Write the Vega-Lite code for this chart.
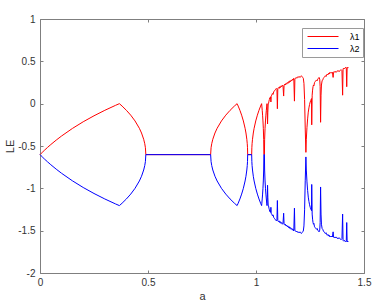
{
  "$schema": "https://vega.github.io/schema/vega-lite/v6.json",
  "width": 324,
  "height": 254,
  "autosize": {"type": "none"},
  "padding": {"left": 40, "top": 19, "right": 9, "bottom": 35},
  "background": "white",
  "config": {
    "view": {"stroke": null},
    "font": "Liberation Sans",
    "axis": {
      "grid": false,
      "domainColor": "#7f7f7f",
      "domainWidth": 1,
      "tickColor": "#7f7f7f",
      "tickSize": -3,
      "labelFont": "Liberation Sans",
      "labelFontSize": 10,
      "labelColor": "#333333",
      "titleFont": "Liberation Sans",
      "titleFontSize": 11,
      "titleFontWeight": "normal",
      "titleColor": "#333333"
    }
  },
  "datasets": {
    "le": [
      {"a": 0, "λ1": -0.602, "λ2": -0.602},
      {"a": 0.005, "λ1": -0.589, "λ2": -0.615},
      {"a": 0.01, "λ1": -0.5765, "λ2": -0.6275},
      {"a": 0.02, "λ1": -0.5518, "λ2": -0.6522},
      {"a": 0.035, "λ1": -0.5166, "λ2": -0.6874},
      {"a": 0.05, "λ1": -0.483, "λ2": -0.721},
      {"a": 0.075, "λ1": -0.4305, "λ2": -0.7735},
      {"a": 0.1, "λ1": -0.3816, "λ2": -0.8224},
      {"a": 0.15, "λ1": -0.2929, "λ2": -0.9111},
      {"a": 0.2, "λ1": -0.2139, "λ2": -0.9901},
      {"a": 0.25, "λ1": -0.1431, "λ2": -1.0609},
      {"a": 0.3, "λ1": -0.0785, "λ2": -1.1255},
      {"a": 0.35, "λ1": -0.0195, "λ2": -1.1845},
      {"a": 0.3675, "λ1": 0, "λ2": -1.204},
      {"a": 0.37, "λ1": -0.0055, "λ2": -1.1985},
      {"a": 0.38, "λ1": -0.0284, "λ2": -1.1756},
      {"a": 0.4, "λ1": -0.0785, "λ2": -1.1255},
      {"a": 0.42, "λ1": -0.136, "λ2": -1.068},
      {"a": 0.44, "λ1": -0.2043, "λ2": -0.9997},
      {"a": 0.46, "λ1": -0.2908, "λ2": -0.9132},
      {"a": 0.47, "λ1": -0.3466, "λ2": -0.8574},
      {"a": 0.48, "λ1": -0.4204, "λ2": -0.7836},
      {"a": 0.485, "λ1": -0.4732, "λ2": -0.7308},
      {"a": 0.488, "λ1": -0.5204, "λ2": -0.6836},
      {"a": 0.49, "λ1": -0.602, "λ2": -0.602},
      {"a": 0.79, "λ1": -0.602, "λ2": -0.602},
      {"a": 0.792, "λ1": -0.5204, "λ2": -0.6836},
      {"a": 0.795, "λ1": -0.4732, "λ2": -0.7308},
      {"a": 0.8, "λ1": -0.4204, "λ2": -0.7836},
      {"a": 0.81, "λ1": -0.3466, "λ2": -0.8574},
      {"a": 0.82, "λ1": -0.2908, "λ2": -0.9132},
      {"a": 0.84, "λ1": -0.2043, "λ2": -0.9997},
      {"a": 0.86, "λ1": -0.136, "λ2": -1.068},
      {"a": 0.88, "λ1": -0.0785, "λ2": -1.1255},
      {"a": 0.9, "λ1": -0.0284, "λ2": -1.1756},
      {"a": 0.9125, "λ1": 0, "λ2": -1.204},
      {"a": 0.9135, "λ1": -0.0055, "λ2": -1.1985},
      {"a": 0.9175, "λ1": -0.0284, "λ2": -1.1756},
      {"a": 0.9255, "λ1": -0.0785, "λ2": -1.1255},
      {"a": 0.9335, "λ1": -0.136, "λ2": -1.068},
      {"a": 0.9415, "λ1": -0.2043, "λ2": -0.9997},
      {"a": 0.9495, "λ1": -0.2908, "λ2": -0.9132},
      {"a": 0.9535, "λ1": -0.3466, "λ2": -0.8574},
      {"a": 0.9575, "λ1": -0.4204, "λ2": -0.7836},
      {"a": 0.9595, "λ1": -0.4732, "λ2": -0.7308},
      {"a": 0.9607, "λ1": -0.5204, "λ2": -0.6836},
      {"a": 0.9615, "λ1": -0.602, "λ2": -0.602},
      {"a": 0.98, "λ1": -0.602, "λ2": -0.602},
      {"a": 0.9808, "λ1": -0.5204, "λ2": -0.6836},
      {"a": 0.9819, "λ1": -0.4732, "λ2": -0.7308},
      {"a": 0.9838, "λ1": -0.4204, "λ2": -0.7836},
      {"a": 0.9875, "λ1": -0.3466, "λ2": -0.8574},
      {"a": 0.9913, "λ1": -0.2908, "λ2": -0.9132},
      {"a": 0.9988, "λ1": -0.2043, "λ2": -0.9997},
      {"a": 1.0063, "λ1": -0.136, "λ2": -1.068},
      {"a": 1.0138, "λ1": -0.0785, "λ2": -1.1255},
      {"a": 1.0213, "λ1": -0.0284, "λ2": -1.1756},
      {"a": 1.026, "λ1": 0, "λ2": -1.204},
      {"a": 1.0271, "λ1": -0.0284, "λ2": -1.1756},
      {"a": 1.0288, "λ1": -0.0785, "λ2": -1.1255},
      {"a": 1.0305, "λ1": -0.136, "λ2": -1.068},
      {"a": 1.0322, "λ1": -0.2043, "λ2": -0.9997},
      {"a": 1.0339, "λ1": -0.2908, "λ2": -0.9132},
      {"a": 1.0356, "λ1": -0.4204, "λ2": -0.7836},
      {"a": 1.0365, "λ1": -0.602, "λ2": -0.602},
      {"a": 1.039, "λ1": -0.602, "λ2": -0.602},
      {"a": 1.04, "λ1": -0.4204, "λ2": -0.7836},
      {"a": 1.0419, "λ1": -0.2908, "λ2": -0.9132},
      {"a": 1.0439, "λ1": -0.2043, "λ2": -0.9997},
      {"a": 1.0458, "λ1": -0.136, "λ2": -1.068},
      {"a": 1.0478, "λ1": -0.0785, "λ2": -1.1255},
      {"a": 1.0498, "λ1": -0.0284, "λ2": -1.1756},
      {"a": 1.051, "λ1": 0, "λ2": -1.204},
      {"a": 1.0522, "λ1": -0.1, "λ2": -1.104},
      {"a": 1.0535, "λ1": -0.24, "λ2": -0.964},
      {"a": 1.0548, "λ1": -0.1, "λ2": -1.104},
      {"a": 1.0565, "λ1": 0, "λ2": -1.204},
      {"a": 1.058, "λ1": 0, "λ2": -1.204},
      {"a": 1.06, "λ1": 0.03, "λ2": -1.234},
      {"a": 1.062, "λ1": 0.05, "λ2": -1.254},
      {"a": 1.064, "λ1": 0.07, "λ2": -1.274},
      {"a": 1.066, "λ1": 0.06, "λ2": -1.264},
      {"a": 1.068, "λ1": 0.08, "λ2": -1.284},
      {"a": 1.069, "λ1": 0.02, "λ2": -1.224},
      {"a": 1.07, "λ1": 0.09, "λ2": -1.294},
      {"a": 1.073, "λ1": 0.1, "λ2": -1.304},
      {"a": 1.076, "λ1": 0.12, "λ2": -1.324},
      {"a": 1.079, "λ1": 0.11, "λ2": -1.314},
      {"a": 1.082, "λ1": 0.14, "λ2": -1.344},
      {"a": 1.085, "λ1": 0.15, "λ2": -1.354},
      {"a": 1.088, "λ1": 0.16, "λ2": -1.364},
      {"a": 1.091, "λ1": 0.17, "λ2": -1.374},
      {"a": 1.094, "λ1": 0.18, "λ2": -1.384},
      {"a": 1.097, "λ1": 0.17, "λ2": -1.374},
      {"a": 1.099, "λ1": -0.06, "λ2": -1.144},
      {"a": 1.101, "λ1": 0.18, "λ2": -1.384},
      {"a": 1.104, "λ1": 0.19, "λ2": -1.394},
      {"a": 1.107, "λ1": 0.18, "λ2": -1.384},
      {"a": 1.11, "λ1": 0.2, "λ2": -1.404},
      {"a": 1.113, "λ1": 0.19, "λ2": -1.394},
      {"a": 1.116, "λ1": 0.21, "λ2": -1.414},
      {"a": 1.119, "λ1": 0.2, "λ2": -1.404},
      {"a": 1.122, "λ1": 0.22, "λ2": -1.424},
      {"a": 1.125, "λ1": 0.21, "λ2": -1.414},
      {"a": 1.128, "λ1": 0.09, "λ2": -1.294},
      {"a": 1.13, "λ1": 0.22, "λ2": -1.424},
      {"a": 1.133, "λ1": 0.23, "λ2": -1.434},
      {"a": 1.136, "λ1": 0.22, "λ2": -1.424},
      {"a": 1.139, "λ1": 0.24, "λ2": -1.444},
      {"a": 1.142, "λ1": 0.23, "λ2": -1.434},
      {"a": 1.145, "λ1": 0.25, "λ2": -1.454},
      {"a": 1.148, "λ1": 0.24, "λ2": -1.444},
      {"a": 1.151, "λ1": 0.26, "λ2": -1.464},
      {"a": 1.154, "λ1": 0.25, "λ2": -1.454},
      {"a": 1.157, "λ1": 0.27, "λ2": -1.474},
      {"a": 1.16, "λ1": 0.26, "λ2": -1.464},
      {"a": 1.163, "λ1": 0.28, "λ2": -1.484},
      {"a": 1.166, "λ1": 0.27, "λ2": -1.474},
      {"a": 1.169, "λ1": 0.29, "λ2": -1.494},
      {"a": 1.172, "λ1": 0.28, "λ2": -1.484},
      {"a": 1.175, "λ1": 0.3, "λ2": -1.504},
      {"a": 1.178, "λ1": 0.03, "λ2": -1.234},
      {"a": 1.18, "λ1": 0.29, "λ2": -1.494},
      {"a": 1.183, "λ1": 0.3, "λ2": -1.504},
      {"a": 1.186, "λ1": 0.31, "λ2": -1.514},
      {"a": 1.189, "λ1": 0.3, "λ2": -1.504},
      {"a": 1.192, "λ1": 0.31, "λ2": -1.514},
      {"a": 1.195, "λ1": 0.32, "λ2": -1.524},
      {"a": 1.198, "λ1": 0.31, "λ2": -1.514},
      {"a": 1.201, "λ1": 0.32, "λ2": -1.524},
      {"a": 1.204, "λ1": 0.31, "λ2": -1.514},
      {"a": 1.207, "λ1": 0.32, "λ2": -1.524},
      {"a": 1.21, "λ1": 0.33, "λ2": -1.534},
      {"a": 1.213, "λ1": 0.32, "λ2": -1.524},
      {"a": 1.216, "λ1": 0.31, "λ2": -1.514},
      {"a": 1.219, "λ1": 0.3, "λ2": -1.504},
      {"a": 1.222, "λ1": 0.24, "λ2": -1.444},
      {"a": 1.225, "λ1": 0.05, "λ2": -1.254},
      {"a": 1.228, "λ1": -0.3, "λ2": -0.904},
      {"a": 1.231, "λ1": -0.575, "λ2": -0.629},
      {"a": 1.233, "λ1": -0.42, "λ2": -0.784},
      {"a": 1.236, "λ1": -0.28, "λ2": -0.924},
      {"a": 1.239, "λ1": -0.18, "λ2": -1.024},
      {"a": 1.242, "λ1": -0.1, "λ2": -1.104},
      {"a": 1.245, "λ1": -0.05, "λ2": -1.154},
      {"a": 1.248, "λ1": -0.01, "λ2": -1.194},
      {"a": 1.251, "λ1": 0.02, "λ2": -1.224},
      {"a": 1.254, "λ1": 0.04, "λ2": -1.244},
      {"a": 1.257, "λ1": 0.06, "λ2": -1.264},
      {"a": 1.258, "λ1": -0.25, "λ2": -0.954},
      {"a": 1.26, "λ1": 0.1, "λ2": -1.304},
      {"a": 1.262, "λ1": 0.16, "λ2": -1.364},
      {"a": 1.264, "λ1": 0.2, "λ2": -1.404},
      {"a": 1.266, "λ1": 0.22, "λ2": -1.424},
      {"a": 1.268, "λ1": 0.21, "λ2": -1.414},
      {"a": 1.271, "λ1": 0.25, "λ2": -1.454},
      {"a": 1.274, "λ1": 0.26, "λ2": -1.464},
      {"a": 1.277, "λ1": 0.27, "λ2": -1.474},
      {"a": 1.28, "λ1": 0.28, "λ2": -1.484},
      {"a": 1.283, "λ1": 0.27, "λ2": -1.474},
      {"a": 1.286, "λ1": 0.29, "λ2": -1.494},
      {"a": 1.289, "λ1": 0.3, "λ2": -1.504},
      {"a": 1.292, "λ1": 0.31, "λ2": -1.514},
      {"a": 1.295, "λ1": 0.29, "λ2": -1.494},
      {"a": 1.297, "λ1": 0.2, "λ2": -1.404},
      {"a": 1.299, "λ1": -0.22, "λ2": -0.984},
      {"a": 1.301, "λ1": 0.1, "λ2": -1.304},
      {"a": 1.303, "λ1": 0.22, "λ2": -1.424},
      {"a": 1.306, "λ1": 0.27, "λ2": -1.474},
      {"a": 1.309, "λ1": 0.28, "λ2": -1.484},
      {"a": 1.312, "λ1": 0.3, "λ2": -1.504},
      {"a": 1.315, "λ1": 0.31, "λ2": -1.514},
      {"a": 1.318, "λ1": 0.32, "λ2": -1.524},
      {"a": 1.321, "λ1": 0.33, "λ2": -1.534},
      {"a": 1.324, "λ1": 0.32, "λ2": -1.524},
      {"a": 1.327, "λ1": 0.34, "λ2": -1.544},
      {"a": 1.33, "λ1": 0.35, "λ2": -1.554},
      {"a": 1.333, "λ1": 0.34, "λ2": -1.544},
      {"a": 1.336, "λ1": 0.36, "λ2": -1.564},
      {"a": 1.339, "λ1": 0.35, "λ2": -1.554},
      {"a": 1.342, "λ1": 0.37, "λ2": -1.574},
      {"a": 1.345, "λ1": 0.36, "λ2": -1.564},
      {"a": 1.348, "λ1": 0.37, "λ2": -1.574},
      {"a": 1.351, "λ1": 0.36, "λ2": -1.564},
      {"a": 1.354, "λ1": 0.37, "λ2": -1.574},
      {"a": 1.357, "λ1": 0.31, "λ2": -1.514},
      {"a": 1.359, "λ1": 0.37, "λ2": -1.574},
      {"a": 1.362, "λ1": 0.38, "λ2": -1.584},
      {"a": 1.365, "λ1": 0.37, "λ2": -1.574},
      {"a": 1.368, "λ1": 0.38, "λ2": -1.584},
      {"a": 1.371, "λ1": 0.37, "λ2": -1.574},
      {"a": 1.374, "λ1": 0.38, "λ2": -1.584},
      {"a": 1.377, "λ1": 0.39, "λ2": -1.594},
      {"a": 1.38, "λ1": 0.38, "λ2": -1.584},
      {"a": 1.383, "λ1": 0.39, "λ2": -1.594},
      {"a": 1.386, "λ1": 0.38, "λ2": -1.584},
      {"a": 1.389, "λ1": 0.39, "λ2": -1.594},
      {"a": 1.392, "λ1": 0.4, "λ2": -1.604},
      {"a": 1.395, "λ1": 0.4, "λ2": -1.604},
      {"a": 1.398, "λ1": 0.39, "λ2": -1.594},
      {"a": 1.401, "λ1": 0.1, "λ2": -1.304},
      {"a": 1.403, "λ1": 0.41, "λ2": -1.614},
      {"a": 1.406, "λ1": 0.42, "λ2": -1.624},
      {"a": 1.409, "λ1": 0.41, "λ2": -1.614},
      {"a": 1.412, "λ1": 0.42, "λ2": -1.624},
      {"a": 1.415, "λ1": 0.43, "λ2": -1.634},
      {"a": 1.418, "λ1": 0.42, "λ2": -1.624},
      {"a": 1.42, "λ1": 0.2, "λ2": -1.404},
      {"a": 1.422, "λ1": 0.43, "λ2": -1.634},
      {"a": 1.425, "λ1": 0.42, "λ2": -1.624},
      {"a": 1.427, "λ1": 0.43, "λ2": -1.634}
    ],
    "frame": [{"a": 0, "v": 0}]
  },
  "layer": [
    {
      "data": {"name": "le"},
      "transform": [{"fold": ["λ1", "λ2"], "as": ["s", "v"]}],
      "mark": {"type": "line", "strokeWidth": 1},
      "encoding": {
        "x": {
          "field": "a", "type": "quantitative",
          "scale": {"domain": [0, 1.5], "nice": false, "zero": false},
          "axis": {"orient": "bottom", "values": [0, 0.5, 1, 1.5], "labelPadding": 7, "title": "a", "titlePadding": 3, "labelExpr": "'' + datum.value", "labelFlush": false}
        },
        "y": {
          "field": "v", "type": "quantitative",
          "scale": {"domain": [-2, 1], "nice": false, "zero": false},
          "axis": {"orient": "left", "values": [-2, -1.5, -1, -0.5, 0, 0.5, 1], "labelPadding": 8, "title": "LE", "titlePadding": 2, "labelExpr": "'' + datum.value"}
        },
        "color": {
          "field": "s", "type": "nominal",
          "scale": {"domain": ["λ1", "λ2"], "range": ["#ff0000", "#0000ff"]},
          "legend": {
            "orient": "none", "legendX": 262, "legendY": 9,
            "direction": "vertical", "title": null,
            "symbolType": "M-1,0H5.2", "symbolSize": 100, "symbolStrokeWidth": 1,
            "symbolOffset": 2, "labelOffset": 32,
            "labelFont": "Liberation Sans", "labelFontSize": 9, "labelColor": "#000000",
            "padding": 3, "rowPadding": 1,
            "strokeColor": "#9a9a9a", "fillColor": "#ffffff"
          }
        }
      }
    },
    {
      "mark": {"type": "rule", "strokeDash": [4, 3], "color": "#000000", "strokeWidth": 1},
      "encoding": {"y": {"datum": 0, "type": "quantitative", "axis": null}}
    },
    {
      "data": {"name": "frame"},
      "mark": {"type": "point", "opacity": 0},
      "encoding": {
        "x": {"field": "a", "type": "quantitative", "axis": {"orient": "top", "values": [0, 0.5, 1, 1.5], "labels": false, "title": null}},
        "y": {"field": "v", "type": "quantitative", "axis": {"orient": "right", "values": [-2, -1.5, -1, -0.5, 0, 0.5, 1], "labels": false, "title": null}}
      }
    }
  ],
  "resolve": {"axis": {"x": "independent", "y": "independent"}}
}
